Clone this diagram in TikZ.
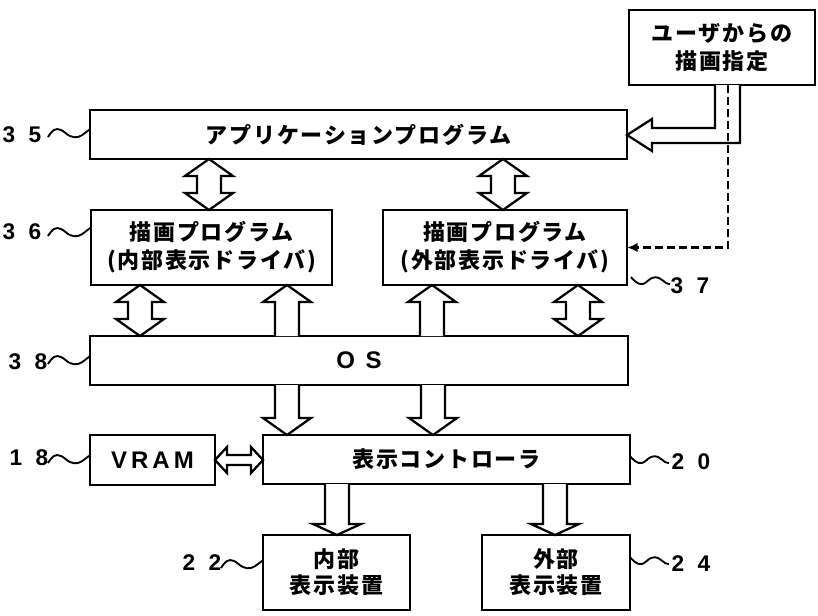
\documentclass[tikz,border=0pt]{standalone}
\usepackage{fontspec}
\setmainfont{Noto Sans CJK JP}
\newfontfamily\jp{Noto Sans CJK JP}[LetterSpace=8]
\newfontfamily\lat{Liberation Sans}
\newfontfamily\num{Liberation Sans}
\usetikzlibrary{calc,arrows.meta}

\newcommand\vdbl[3]{%
  \coordinate (T) at (#1,0 |- #2.south);
  \coordinate (B) at (#1,0 |- #3.north);
  \draw[blk] (T) -- ($(T)+(24,17)$) -- ($(T)+(12,17)$) -- ($(B)+(12,-17)$) -- ($(B)+(24,-17)$) -- (B)
    -- ($(B)+(-24,-17)$) -- ($(B)+(-12,-17)$) -- ($(T)+(-12,17)$) -- ($(T)+(-24,17)$) -- cycle;}
\newcommand\vup[3]{%
  \coordinate (T) at (#1,0 |- #2.south);
  \coordinate (B) at (#1,0 |- #3.north);
  \draw[blk] ($(B)+(12,0)$) -- ($(T)+(12,17)$) -- ($(T)+(24,17)$) -- (T) -- ($(T)+(-24,17)$)
    -- ($(T)+(-12,17)$) -- ($(B)+(-12,0)$);}
\newcommand\vdown[4]{%
  \coordinate (T) at (#1,0 |- #2.south);
  \coordinate (B) at (#1,0 |- #3.north);
  \draw[blk] ($(T)+(12,0)$) -- ($(B)+(12,-#4)$) -- ($(B)+(24,-#4)$) -- (B) -- ($(B)+(-24,-#4)$)
    -- ($(B)+(-12,-#4)$) -- ($(T)+(-12,0)$);}
\newcommand\lsq[2]{%
  \draw[sq] plot[smooth,tension=0.7] coordinates {({#1-42},{#2+8}) ({#1-36},{#2+1}) ({#1-29},{#2+1}) ({#1-20},{#2+7}) ({#1-12},{#2+8}) ({#1-5},{#2+4}) (#1,#2)};}
\newcommand\rsq[2]{%
  \draw[sq] plot[smooth,tension=0.7] coordinates {(#1,#2) ({#1+5},{#2+5}) ({#1+12},{#2+7}) ({#1+21},{#2+1}) ({#1+28},{#2+1}) ({#1+35},{#2+6}) ({#1+39},{#2+7})};}

\begin{document}
\begin{tikzpicture}[x=0.75pt,y=-0.75pt,
  box/.style={draw, line width=2pt, fill=white, inner sep=0pt, outer sep=0pt, align=center,
    font=\jp\bfseries\fontsize{16.5}{21}\selectfont},
  wh/.style 2 args={minimum width={#1*0.75pt}, minimum height={#2*0.75pt}},
  blk/.style={draw, line width=1.7pt, line join=miter, fill=white},
  lbl/.style={font=\num\bfseries\fontsize{17}{17}\selectfont, inner sep=0pt},
  latin/.style={font=\lat\bfseries\fontsize{18}{18}\selectfont},
  sq/.style={line width=1.4pt},
  dsh/.style={line width=1.6pt, dash pattern=on 6pt off 3pt}]
\useasboundingbox (0,0) rectangle (818,615);

% boxes
\node[box, wh={186}{75}] (user) at (722,47.5) {ユーザからの\\描画指定};
\node[box, wh={537}{49}] (app) at (358.5,134.5) {アプリケーションプログラム};
\node[box, wh={241}{75}] (d36) at (211.5,247.5) {描画プログラム\\(内部表示ドライバ)};
\node[box, wh={244}{75}] (d37) at (505,247.5) {描画プログラム\\(外部表示ドライバ)};
\node[box, latin, wh={538}{49}] (os) at (359,360.5) {O\hspace{8pt}S};
\node[box, latin, wh={125}{50}] (vram) at (152.5,460) {V\hspace{3pt}R\hspace{3pt}A\hspace{3pt}M};
\node[box, wh={367}{49}] (ctrl) at (446.5,459.5) {表示コントローラ};
\node[box, wh={147}{75}, font=\jp\bfseries\fontsize{16.5}{19.5}\selectfont] (in22) at (336.5,572.5) {内部\\表示装置};
\node[box, wh={148}{75}, font=\jp\bfseries\fontsize{16.5}{19.5}\selectfont] (ex24) at (556,572.5) {外部\\表示装置};

% block arrows
\vdbl{209}{app}{d36}
\vdbl{503}{app}{d37}
\vdbl{140}{d36}{os}
\vup{287}{d36}{os}
\vup{432}{d37}{os}
\vdbl{578}{d37}{os}
\vdown{287}{os}{ctrl}{17}
\vdown{433}{os}{ctrl}{17}
\vdown{337}{ctrl}{in22}{11}
\vdown{555}{ctrl}{ex24}{11}

% VRAM <-> controller
\coordinate (L) at (vram.east);
\coordinate (R) at (ctrl.west |- vram.east);
\draw[blk] (L) -- ($(L)+(12,-13)$) -- ($(L)+(12,-5)$) -- ($(R)+(-12,-5)$) -- ($(R)+(-12,-13)$) -- (R)
  -- ($(R)+(-12,13)$) -- ($(R)+(-12,5)$) -- ($(L)+(12,5)$) -- ($(L)+(12,13)$) -- cycle;

% user -> application (elbow block arrow)
\coordinate (ua) at (user.south -| 715,0);
\coordinate (ub) at (user.south -| 740,0);
\coordinate (tip) at (app.east |- 0,135);
\draw[blk] (ub) |- ($(tip)+(25,8)$) -- ($(tip)+(25,16)$) -- (tip) -- ($(tip)+(25,-16)$)
  -- ($(tip)+(25,-7)$) -| (ua);

% user -> external driver (dashed)
\draw[dsh,-{Latex[length=8pt,width=7pt]}] (user.south -| 728,0) |- (d37.east);

% reference labels
\node[lbl] (l35) at (22,135) {3\hspace{10pt}5};
\node[lbl] (l36) at (22,232) {3\hspace{10pt}6};
\node[lbl] (l38) at (28,362) {3\hspace{10pt}8};
\node[lbl] (l18) at (29,458) {1\hspace{10pt}8};
\node[lbl] (l22) at (202,563) {2\hspace{10pt}2};
\node[lbl] (l20) at (691,462) {2\hspace{10pt}0};
\node[lbl] (l24) at (691,564) {2\hspace{10pt}4};
\node[lbl] (l37) at (690,286) {3\hspace{10pt}7};

\lsq{90}{129}
\lsq{90}{228}
\lsq{90}{356}
\lsq{90}{455}
\lsq{263}{560}
\rsq{630}{456}
\rsq{630}{557}
\rsq{631}{277}
\end{tikzpicture}
\end{document}
